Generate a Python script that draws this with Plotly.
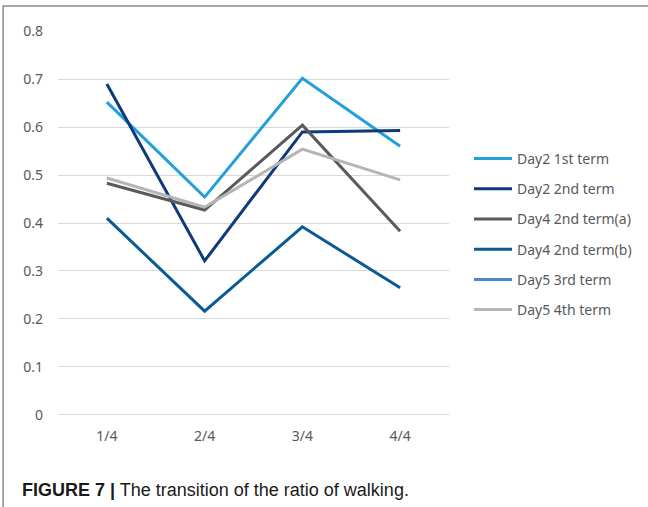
import plotly.graph_objects as go

categories = ["1/4", "2/4", "3/4", "4/4"]
series_names = ["Day2 1st term", "Day2 2nd term", "Day4 2nd term(a)",
                "Day4 2nd term(b)", "Day5 3rd term", "Day5 4th term"]
day2_1st = [0.652, 0.454, 0.702, 0.560]
day2_2nd = [0.690, 0.321, 0.590, 0.593]
day4_2nd_a = [0.483, 0.427, 0.604, 0.383]
day4_2nd_b = [0.410, 0.216, 0.392, 0.265]
day5_3rd = [None, None, None, None]
day5_4th = [0.494, 0.433, 0.554, 0.490]
y_ticks = [0, 0.1, 0.2, 0.3, 0.4, 0.5, 0.6, 0.7, 0.8]
y_tick_labels = ["0", "0.1", "0.2", "0.3", "0.4", "0.5", "0.6", "0.7", "0.8"]

values = [day2_1st, day2_2nd, day4_2nd_a, day4_2nd_b, day5_3rd, day5_4th]
colors = ["#23a0dc", "#0d3a78", "#5a5a5a", "#0a5b94", "#4a86d4", "#b5b5b5"]

fig = go.Figure()
for name, vals, col in zip(series_names, values, colors):
    fig.add_trace(go.Scatter(x=categories, y=vals, name=name, mode="lines",
                             line=dict(color=col, width=3), legendgroup=name))

W, H = 648, 507
L, R, T, B = 58, 450, 31, 415
pw, ph = R - L, B - T

def px(x):
    return (x - L) / pw

def py(y):
    return (B - y) / ph

fig.update_layout(
    width=W, height=H,
    margin=dict(l=L, r=W - R, t=T, b=H - B),
    paper_bgcolor="white", plot_bgcolor="white",
    font=dict(family="Noto Sans", color="#595959", size=14),
    showlegend=True,
    legend=dict(x=px(469), y=py(143), xanchor="left", yanchor="top",
                font=dict(size=14, color="#595959"), itemwidth=38,
                tracegroupgap=9, bgcolor="rgba(0,0,0,0)"),
    xaxis=dict(type="category", range=[-0.5, 3.5], showgrid=False,
               showline=False, zeroline=False,
               tickfont=dict(size=14, color="#595959"), ticklabelstandoff=11,
               fixedrange=True),
    yaxis=dict(range=[-0.0005, 0.8005], tickvals=y_ticks, ticktext=y_tick_labels,
               showgrid=True, gridcolor="#d9d9d9", gridwidth=1.3,
               zeroline=True, zerolinecolor="#d9d9d9", zerolinewidth=1.3,
               showline=False,
               tickfont=dict(size=14, color="#595959"), ticklabelstandoff=14),
    shapes=[dict(type="rect", xref="paper", yref="paper",
                 x0=px(3), x1=px(670), y0=py(6), y1=py(530),
                 line=dict(color="#8c8c8c", width=1.5), layer="above")],
    annotations=[dict(xref="paper", yref="paper", x=px(20), y=py(490),
                      xanchor="left", yanchor="middle", showarrow=False,
                      text="<b>FIGURE 7 |</b> The transition of the ratio of walking.",
                      font=dict(family="Liberation Sans", size=18, color="#1a1a1a"))],
)

fig.write_html("out.html", config={"displayModeBar": False},
               post_script="document.body.style.margin='0';document.body.style.overflow='hidden';")
